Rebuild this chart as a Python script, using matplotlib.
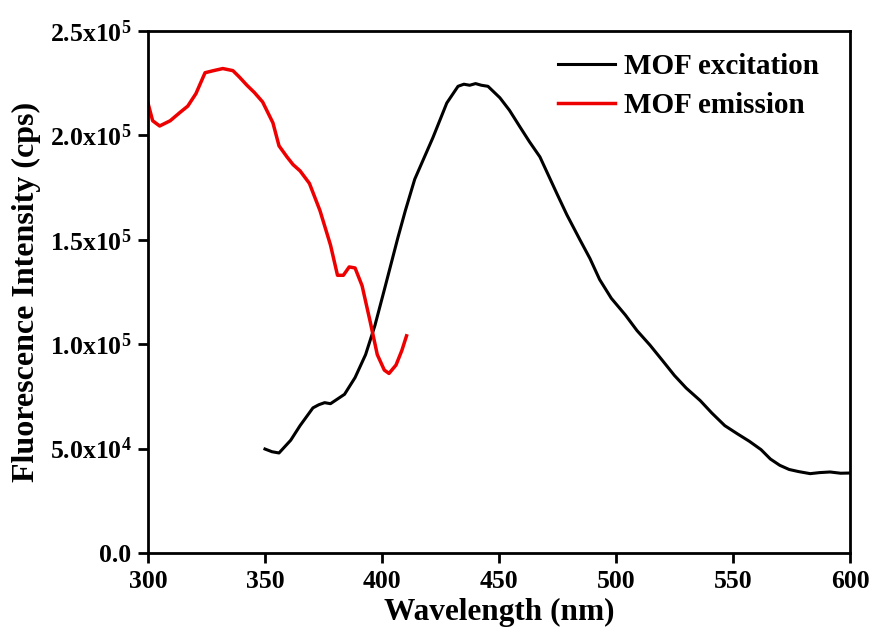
import numpy as np
import matplotlib
matplotlib.use("Agg")
from matplotlib import pyplot as plt
from matplotlib.ticker import FixedLocator

plt.rcParams['font.family'] = ['Liberation Serif', 'DejaVu Serif']
plt.rcParams['font.weight'] = 'bold'
plt.rcParams['mathtext.fontset'] = 'custom'
plt.rcParams['mathtext.rm'] = 'Liberation Serif:bold'
plt.rcParams['mathtext.it'] = 'Liberation Serif:bold'
plt.rcParams['mathtext.bf'] = 'Liberation Serif:bold'
plt.rcParams['mathtext.default'] = 'rm'

# MOF excitation (black)
exc_wl = [350, 353, 356, 361, 365, 370.5, 373, 375.5, 378, 380, 384, 388.5,
          393, 397, 401, 406.8, 410, 414, 421.8, 427.7, 432.5, 435, 437.5,
          440, 442.5, 445.3, 450.4, 454.5, 459, 463, 467.5, 474.8, 479,
          484.6, 488.9, 493, 498, 504, 509, 514.5, 520, 525, 530, 536,
          541, 546.5, 552, 557, 562, 566, 570, 574, 578, 583, 587, 591.5,
          596, 600]
exc_int = [49.8e3, 48.5e3, 47.9e3, 54e3, 61e3, 69.5e3, 71e3, 72e3, 71.5e3,
           73e3, 76e3, 84e3, 95e3, 109e3, 126e3, 151e3, 164e3, 179e3,
           199e3, 215.5e3, 223.5e3, 224.5e3, 224e3, 224.8e3, 224e3, 223.5e3,
           218e3, 212e3, 204e3, 197e3, 189.7e3, 172e3, 162e3, 150e3, 141e3,
           131e3, 122e3, 114e3, 106.5e3, 99.6e3, 92e3, 85e3, 79e3, 73e3,
           67e3, 61e3, 57e3, 53.5e3, 49.5e3, 45e3, 42e3, 40e3, 39e3, 38e3,
           38.5e3, 38.8e3, 38.2e3, 38.3e3]

# MOF emission (red)
em_wl = [300, 302, 305, 309.5, 313.7, 317, 320.5, 324.4, 328, 332, 336.3,
         339, 342.3, 345.5, 349, 353.4, 356, 359.4, 362, 365, 369, 373.5,
         378, 381, 383.5, 386, 388.5, 391.5, 395, 398, 401, 403, 406,
         408.5, 410.5]
em_int = [215.5e3, 207e3, 204.5e3, 207e3, 211e3, 214e3, 220e3, 230e3,
          231e3, 232e3, 231e3, 228e3, 224e3, 220.5e3, 216e3, 206e3, 195e3,
          189.7e3, 186e3, 183e3, 177e3, 164e3, 147.5e3, 133e3, 133e3, 137e3,
          136.5e3, 128e3, 110.6e3, 95e3, 87.6e3, 86e3, 90e3, 97e3, 104e3]

y_ticks = [0, 5e4, 1e5, 1.5e5, 2e5, 2.5e5]
y_tick_labels = ['0.0', '5.0x10$^{4}$', '1.0x10$^{5}$', '1.5x10$^{5}$',
                 '2.0x10$^{5}$', '2.5x10$^{5}$']
x_ticks = [300, 350, 400, 450, 500, 550, 600]

fig = plt.figure(figsize=(8.74, 6.32), dpi=100)
ax = fig.add_axes([0.1693, 0.125, 0.8032, 0.826])

ax.plot(exc_wl, exc_int, color='black', lw=2.2, label='MOF excitation')
ax.plot(em_wl, em_int, color='#ee0000', lw=2.5, label='MOF emission')

ax.set_xlim(300, 600)
ax.set_ylim(0, 2.5e5)
ax.xaxis.set_major_locator(FixedLocator(x_ticks))
ax.yaxis.set_major_locator(FixedLocator(y_ticks))
ax.set_yticklabels(y_tick_labels)

ax.tick_params(direction='out', length=7, width=2, labelsize=18.5, pad=5,
               top=False, right=False)
for sp in ax.spines.values():
    sp.set_linewidth(2)

ax.set_xlabel('Wavelength (nm)', fontsize=22.5, fontweight='bold', labelpad=4)
ax.set_ylabel('Fluorescence Intensity (cps)', fontsize=23, fontweight='bold', labelpad=6)

ax.legend(loc='upper right', frameon=False, fontsize=21,
          handlelength=1.95, handletextpad=0.3, labelspacing=0.42,
          bbox_to_anchor=(0.993, 1.008))

fig.savefig('out.png', dpi=100)
